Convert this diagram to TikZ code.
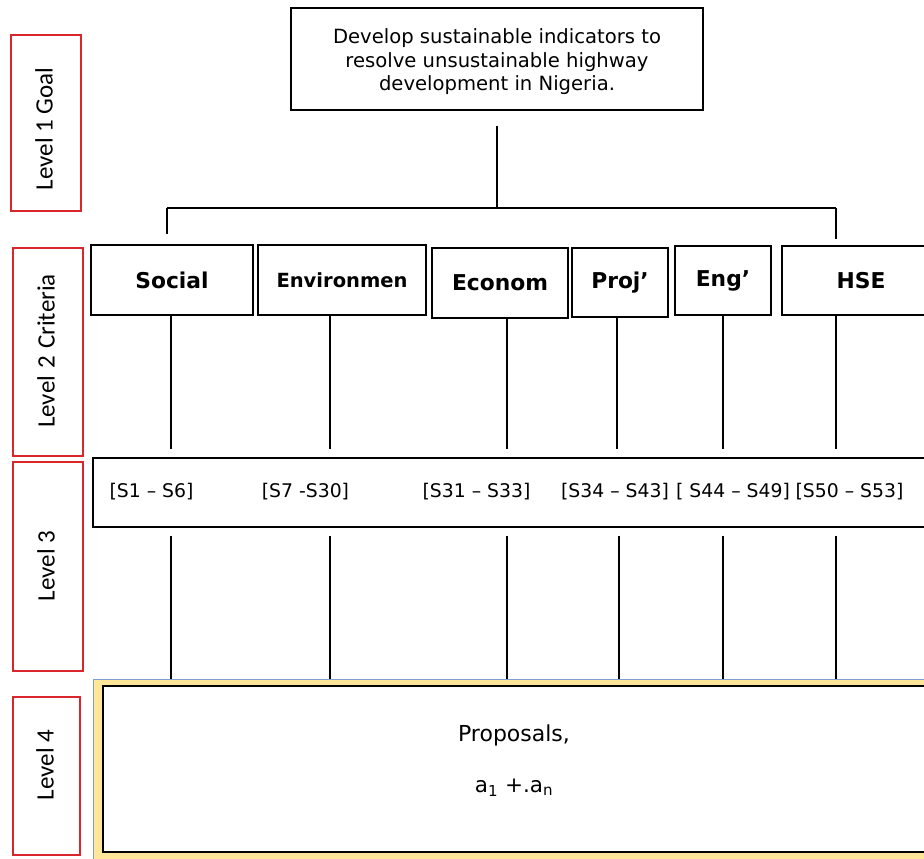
\documentclass[tikz,border=0pt]{standalone}
\usepackage{fontspec}
\setmainfont{DejaVu Sans}
\newfontfamily\labelfont{Carlito}
\usetikzlibrary{calc}
\definecolor{lvlred}{HTML}{D8262B}
\definecolor{propfill}{HTML}{FFE699}
\definecolor{propedge}{HTML}{7F9FD4}
\tikzset{
  lvlbox/.style={draw=lvlred, line width=1.6pt, rectangle, inner sep=0pt},
  lvltext/.style={font=\labelfont\fontsize{25}{28}\selectfont, rotate=90, inner sep=0pt},
  crit/.style={draw=black, line width=1.3pt, rectangle, inner sep=0pt,
    font=\bfseries\fontsize{21.8}{24}\selectfont},
  plain/.style={draw=black, line width=1.3pt, rectangle, inner sep=0pt},
  rng/.style={font=\fontsize{18.8}{21}\selectfont, inner sep=0pt},
  link/.style={draw=black, line width=1.2pt}
}
\begin{document}
\begin{tikzpicture}[x=1pt, y=-1pt]
\useasboundingbox (0,0) rectangle (924,859);
\clip (0,0) rectangle (924,859);

% level labels on the left
\node[lvlbox, minimum width=70, minimum height=176] (lv1) at (46,123) {};
\node[lvltext] at (44,129) {Level 1 Goal};
\node[lvlbox, minimum width=70, minimum height=208] (lv2) at (48,352) {};
\node[lvltext] at (46,351) {Level\hspace{2pt} 2\hspace{1pt} Criteria};
\node[lvlbox, minimum width=70, minimum height=209] (lv3) at (48,566.5) {};
\node[lvltext] at (46,566) {Level 3};
\node[lvlbox, minimum width=67, minimum height=158] (lv4) at (46.5,776) {};
\node[lvltext] at (45,765) {Level 4};

% goal
\node[plain, minimum width=412, minimum height=102] (goal) at (497,59) {};
\node[align=center, inner sep=0pt, font=\fontsize{19.6}{23.5}\selectfont] (goaltxt)
  at ($(goal.center)+(0,3)$)
  {Develop sustainable indicators to\\resolve unsustainable highway\\development in Nigeria.};

% criteria
\node[crit, minimum width=162, minimum height=70] (social) at (172,280) {Social};
\node[crit, minimum width=168, minimum height=70, font=\bfseries\fontsize{19.5}{22}\selectfont] (env) at (342,280) {Environmen};
\node[crit, minimum width=136, minimum height=70] (econ) at (500,283) {Econom};
\node[crit, minimum width=96, minimum height=69] (proj) at (620,282.5) {Proj’};
\node[crit, minimum width=96, minimum height=69] (eng) at (723,280.5) {Eng’};
\node[crit, minimum width=158, minimum height=69] (hse) at (861,280.5) {HSE};

% goal to criteria
\coordinate (bus) at (497,208);
\coordinate (busL) at (167,208);
\coordinate (busR) at (836,208);
\draw[link] ($(goal.south)+(0,15)$) -- (bus);
\draw[link] (busL) -- (busR);
\draw[link] (busL) -- ($(social.north -| busL)+(0,-10)$);
\draw[link] (busR) -- ($(hse.north -| busR)+(0,-6)$);

% level 3 sub-criteria
\node[plain, minimum width=847, minimum height=69] (sub) at (516.5,492.5) {};
\node[rng] (r1) at (151.5,492) {[S1 – S6]};
\node[rng] (r2) at (305.5,492) {[S7 -S30]};
\node[rng] (r3) at (476.5,492) {[S31 – S33]};
\node[rng] (r4) at (615,492) {[S34 – S43]};
\node[rng] (r5) at (733,492) {[ S44 – S49]};
\node[rng] (r6) at (849.5,492) {[S50 – S53]};

% level 4 proposals
\node[draw=propedge, line width=0.8pt, fill=propfill, rectangle, inner sep=0pt,
  minimum width=847, minimum height=182] (propbg) at (516.5,770) {};
\node[plain, fill=white, minimum width=837, minimum height=166] (prop) at (521.5,769) {};
\node[font=\fontsize{22}{26}\selectfont, inner sep=0pt] (ptxt) at (514,735) {Proposals,};
\node[font=\fontsize{21.5}{26}\selectfont, inner sep=0pt] (atxt) at (514,788) {a\textsubscript{1} +.a\textsubscript{n}};

% vertical connectors through the levels
\foreach \n/\xa/\xb in {social/171/171, env/330/330, econ/507/507, proj/617/619, eng/723/723, hse/836/836}{
  \coordinate (\n-up) at (\xa,0);
  \coordinate (\n-dn) at (\xb,0);
  \draw[link] (\n.south -| \n-up) -- ($(sub.north -| \n-up)+(0,-8)$);
  \draw[link] ($(sub.south -| \n-dn)+(0,8)$) -- (propbg.north -| \n-dn);
}
\end{tikzpicture}
\end{document}
